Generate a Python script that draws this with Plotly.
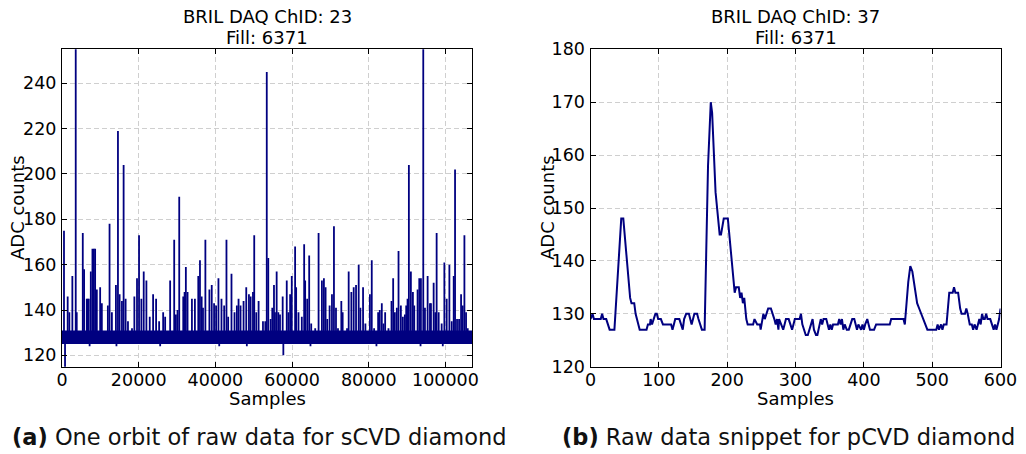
import plotly.graph_objects as go

# ---------------- Left panel: one orbit of sCVD raw data ----------------
orbit_samples = 106920
left_xticks = [0, 20000, 40000, 60000, 80000, 100000]
left_yticks = [120, 140, 160, 180, 200, 220, 240]

# noise band of the baseline (ADC counts)
band_x = [0, 20000, 40000, 60000, 80000, 100000, 106920]
band_low = [125, 125, 125, 125, 125, 125, 125]
band_high = [131, 131, 131, 131, 131, 131, 131]
spike_base = 130

# upward spikes: sample index, peak ADC
spike_x = [520, 1480, 1920, 2700, 3580, 3840, 5420, 5760, 6460, 6700, 6990, 7510, 7940, 8300, 8640,
           9080, 9950, 10390, 11960, 12400, 13010, 14060, 14590, 15020, 15630, 16070, 16590, 17200,
           18250, 18870, 19560, 20090, 20700, 21310, 22010, 22880, 23760, 24540, 25330, 26380,
           26900, 28200, 29260, 29700, 30130, 30570, 31620, 31970, 32300, 32740, 33880, 34660,
           35540, 35980, 36420, 36770, 37390, 38440, 39050, 39660, 40190, 40800, 41590, 42290,
           42890, 43330, 44200, 44990, 45600, 46040, 46560, 47350, 48050, 48750, 49190, 49800,
           50130, 50660, 51270, 52410, 53020, 53400, 53790, 54410, 54840, 55280, 55540, 55980,
           56410, 56850, 57550, 58610, 59050, 59490, 59920, 60790, 61060, 61670, 62540, 63150,
           63410, 63940, 64460, 64990, 66030, 66910, 67780, 68300, 68740, 69180, 69790, 70400,
           70920, 71450, 71970, 72840, 73190, 74330, 74760, 75460, 76070, 76680, 77370, 77810,
           78510, 79120, 80300, 80780, 81390, 82440, 82870, 83400, 83830, 84270, 85140, 85930,
           86360, 86800, 87320, 87760, 88370, 88890, 89410, 89760, 90110, 90460, 90980, 91510,
           91860, 92730, 93170, 93600, 94210, 94650, 95350, 95960, 96220, 96920, 97350, 97700,
           98230, 99010, 99710, 100320, 101020, 101630, 102150, 102500, 103020, 103550, 104070,
           104500, 104940, 105370, 105810]
spike_adc = [175, 146, 139, 155, 258, 139, 174, 158, 145, 145, 145, 157, 167, 167, 167,
             149, 150, 143, 142, 178, 139, 151, 219, 147, 144, 204, 145, 135,
             132, 146, 154, 173, 145, 157, 153, 137, 147, 145, 135, 139,
             137, 153, 171, 138, 140, 190, 146, 148, 159, 148, 145, 145,
             155, 162, 146, 141, 171, 149, 151, 143, 142, 154, 145, 142,
             171, 137, 156, 139, 142, 145, 142, 144, 150, 147, 146, 148,
             173, 139, 144, 135, 135, 245, 163, 136, 141, 151, 139, 157,
             139, 138, 146, 153, 139, 147, 155, 168, 150, 139, 137, 169,
             153, 145, 164, 134, 132, 174, 153, 154, 150, 136, 142, 147,
             177, 141, 132, 144, 139, 132, 157, 148, 150, 151, 160, 141,
             150, 134, 147, 162, 132, 139, 140, 143, 134, 139, 132, 144,
             154, 139, 141, 166, 142, 137, 138, 142, 145, 204, 157, 148,
             142, 149, 154, 154, 258, 141, 155, 143, 143, 152, 139, 174,
             139, 134, 161, 145, 160, 135, 155, 202, 136, 136, 147,
             142, 173, 139, 132]

# downward excursions: sample index, minimum ADC
dip_x = [790, 7200, 14200, 25600, 41000, 48200, 57720, 64800, 82000, 93500, 99300]
dip_adc = [113, 124, 124, 124, 124, 124, 120, 124, 124, 124, 124]

# ---------------- Right panel: raw data snippet for pCVD ----------------
right_xticks = [0, 100, 200, 300, 400, 500, 600]
right_yticks = [120, 130, 140, 150, 160, 170, 180]
snip_x = [0, 3, 5, 15, 17, 19, 23, 26, 28, 35, 40, 45, 48, 53, 58, 60, 64, 66, 68, 70, 72, 82, 84, 87,
          88, 90, 92, 95, 97, 99, 103, 106, 118, 120, 122, 124, 130, 132, 135, 137, 140, 144, 146,
          148, 152, 156, 158, 160, 163, 167, 172, 176, 178, 183, 189, 191, 195, 201, 205, 209, 211,
          213, 217, 219, 221, 223, 225, 228, 230, 238, 240, 244, 248, 249, 250, 253, 255, 257, 260,
          264, 267, 269, 271, 273, 275, 276, 279, 282, 284, 286, 290, 292, 295, 297, 299, 306, 308,
          310, 313, 315, 318, 320, 322, 325, 327, 330, 332, 335, 337, 339, 341, 345, 347, 349, 351,
          353, 355, 362, 364, 366, 368, 370, 372, 375, 378, 380, 383, 386, 388, 390, 392, 396, 398,
          400, 402, 405, 407, 409, 415, 418, 438, 440, 458, 460, 465, 468, 471, 476, 478, 481, 484,
          487, 490, 493, 506, 508, 510, 513, 515, 517, 521, 525, 530, 532, 534, 538, 541, 543, 548,
          550, 552, 555, 558, 560, 562, 565, 567, 569, 571, 573, 575, 577, 579, 581, 585, 588, 590,
          592, 594, 596, 598, 600]
snip_adc = [129, 130, 129, 129, 130, 129, 129, 128, 127, 127, 138, 148, 148, 140, 133, 132, 132, 130,
            129, 128, 127, 127, 128, 128, 129, 128, 129, 130, 130, 129, 129, 128, 128, 127, 128, 129,
            129, 128, 127, 129, 130, 130, 129, 128, 130, 130, 129, 128, 127, 127, 158, 170, 168, 153,
            145, 145, 148, 148, 142, 137, 134, 135, 135, 133, 134, 132, 133, 129, 128, 128, 129, 128,
            128, 127, 128, 130, 129, 130, 131, 131, 130, 129, 128, 129, 127, 129, 128, 127, 128, 129,
            129, 128, 127, 128, 129, 129, 130, 128, 127, 126, 126, 127, 128, 129, 127, 126, 126, 128,
            129, 128, 129, 129, 128, 127, 128, 127, 128, 128, 129, 128, 129, 127, 128, 127, 127, 128,
            129, 129, 128, 127, 128, 127, 128, 127, 128, 129, 128, 127, 127, 128, 128, 129, 129, 128,
            136, 139, 138, 133, 132, 131, 130, 129, 128, 127, 127, 128, 127, 128, 127, 128, 128, 134,
            134, 135, 134, 134, 131, 130, 130, 131, 130, 128, 128, 127, 128, 127, 128, 129, 128, 130,
            129, 129, 130, 129, 129, 128, 127, 128, 127, 128, 129, 131]

titles = [("BRIL DAQ ChID: 23", "Fill: 6371"), ("BRIL DAQ ChID: 37", "Fill: 6371")]
captions = ["<b>(a)</b> One orbit of raw data for sCVD diamond",
            "<b>(b)</b> Raw data snippet for pCVD diamond"]

NAVY = "#000080"
FONT = "DejaVu Sans"

fig = go.Figure()

# band (lower edge, then upper edge filled to it)
fig.add_trace(go.Scatter(x=band_x, y=band_low, mode="lines", line=dict(width=0, color=NAVY),
                         xaxis="x", yaxis="y", hoverinfo="skip"))
fig.add_trace(go.Scatter(x=band_x, y=band_high, mode="lines", line=dict(width=0, color=NAVY),
                         fill="tonexty", fillcolor=NAVY, xaxis="x", yaxis="y", hoverinfo="skip"))

sx, sy = [], []
for x, p in zip(spike_x, spike_adc):
    sx += [x, x, None]
    sy += [spike_base, p, None]
for x, p in zip(dip_x, dip_adc):
    sx += [x, x, None]
    sy += [126, p, None]
fig.add_trace(go.Scatter(x=sx, y=sy, mode="lines", line=dict(width=1.8, color=NAVY),
                         xaxis="x", yaxis="y", hoverinfo="skip"))

fig.add_trace(go.Scatter(x=snip_x, y=snip_adc, mode="lines", line=dict(width=2, color=NAVY),
                         xaxis="x2", yaxis="y2", hoverinfo="skip"))

W, H = 1026, 454
L1, R1 = 62, 472
L2, R2 = 590.5, 1000.5
TOP, BOT = 49.3, 366.7

common_axis = dict(
    showline=True, linecolor="black", linewidth=1, mirror="ticks",
    ticks="inside", ticklen=5, tickwidth=1, tickcolor="black",
    showgrid=True, gridcolor="#cfcfcf", gridwidth=1, griddash="5px,3px",
    zeroline=False, tickfont=dict(family=FONT, size=17.5, color="black"),
    tickmode="array", automargin=False,
)

fig.update_layout(
    width=W, height=H,
    margin=dict(l=0, r=0, t=0, b=0, pad=0, autoexpand=False),
    paper_bgcolor="white", plot_bgcolor="white",
    showlegend=False,
    xaxis=dict(domain=[L1 / W, R1 / W], range=[0, orbit_samples], anchor="y",
               tickvals=left_xticks, ticktext=[str(v) for v in left_xticks],
               ticklabelstandoff=-3, **common_axis),
    yaxis=dict(domain=[1 - BOT / H, 1 - TOP / H], range=[115, 255], anchor="x",
               tickvals=left_yticks, ticktext=[str(v) for v in left_yticks],
               ticklabelstandoff=1, **common_axis),
    xaxis2=dict(domain=[L2 / W, R2 / W], range=[0, 600], anchor="y2",
                tickvals=right_xticks, ticktext=[str(v) for v in right_xticks],
                ticklabelstandoff=-3, **common_axis),
    yaxis2=dict(domain=[1 - BOT / H, 1 - TOP / H], range=[120, 180], anchor="x2",
                tickvals=right_yticks, ticktext=[str(v) for v in right_yticks],
                ticklabelstandoff=1, **common_axis),
)

ann = []
centers = [(L1 + R1) / 2, (L2 + R2) / 2]
for i, (c, (t1, t2)) in enumerate(zip(centers, titles)):
    ann.append(dict(x=c / W, y=1 - 17 / H, text=t1))
    ann.append(dict(x=c / W, y=1 - 38 / H, text=t2))
    ann.append(dict(x=c / W, y=1 - 398 / H, text="Samples"))
ann.append(dict(x=17 / W, y=1 - 208 / H, text="ADC counts", textangle=-90))
ann.append(dict(x=547 / W, y=1 - 208 / H, text="ADC counts", textangle=-90))
for a in ann:
    a.update(xref="paper", yref="paper", showarrow=False, xanchor="center", yanchor="middle",
             font=dict(family=FONT, size=18, color="black"))
cap_centers = [259, 788.5]
for c, t in zip(cap_centers, captions):
    ann.append(dict(x=c / W, y=1 - 437 / H, text=t, xref="paper", yref="paper", showarrow=False,
                    xanchor="center", yanchor="middle",
                    font=dict(family=FONT, size=22.5, color="#111111")))
fig.update_layout(annotations=ann)

fig.write_html("out.html")
